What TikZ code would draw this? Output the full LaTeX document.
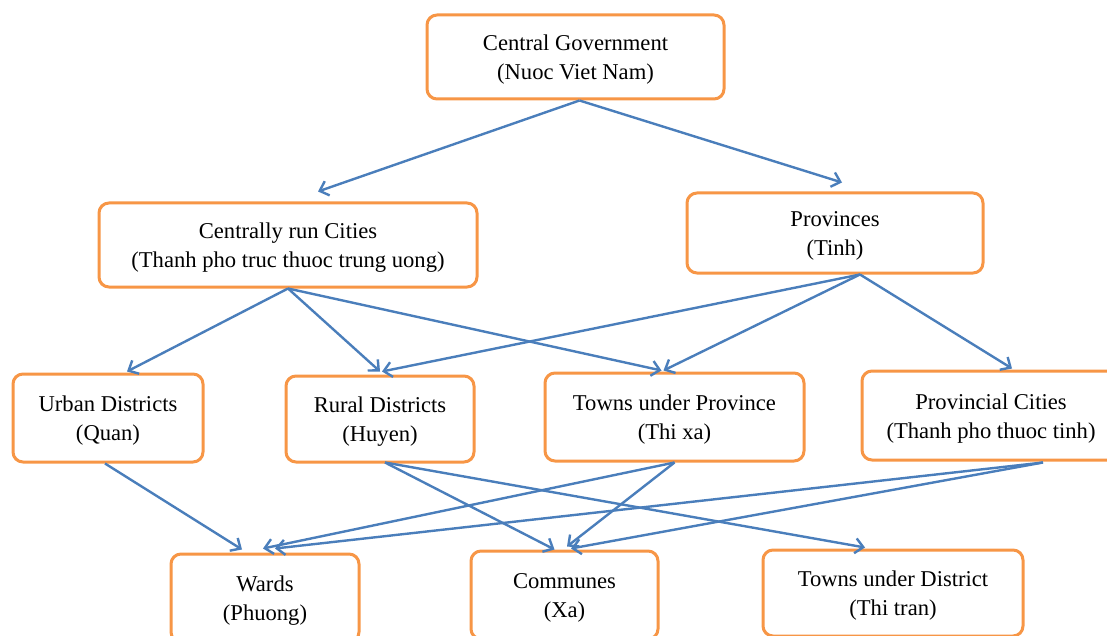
\documentclass[tikz,border=0pt]{standalone}
\usepackage{fontspec}
\setmainfont{Liberation Serif}
\usetikzlibrary{arrows.meta,calc}
\definecolor{boxorange}{RGB}{247,150,70}
\definecolor{linkblue}{RGB}{74,126,187}
\begin{document}
\begin{tikzpicture}[x=1pt,y=-1pt,
  unit/.style={draw=boxorange, line width=3pt, rounded corners=10pt, fill=white,
    inner sep=0pt},
  caption/.style={align=center, inner sep=0pt, font=\fontsize{22.6}{29}\selectfont},
  link/.style={draw=linkblue, line width=2.4pt,
    -{Straight Barb[length=8pt,width=15pt]}}]
\useasboundingbox (0,0) rectangle (1107,636);

% administrative units: frame first, then its two-line caption
\node[unit, minimum width=297pt, minimum height=84pt] (cg) at (575.5,57) {};
\node[caption] (cg-t) at ($(cg)+(0,3)$) {Central Government\\(Nuoc Viet Nam)};
\node[unit, minimum width=378pt, minimum height=84pt] (cc) at (288,245) {};
\node[caption] (cc-t) at ($(cc)+(0,3)$) {Centrally run Cities\\(Thanh pho truc thuoc trung uong)};
\node[unit, minimum width=296pt, minimum height=80pt] (pv) at (835,233) {};
\node[caption] (pv-t) at ($(pv)+(0,3)$) {Provinces\\(Tinh)};
\node[unit, minimum width=190pt, minimum height=88pt] (ud) at (108,418) {};
\node[caption] (ud-t) at ($(ud)+(0,3)$) {Urban Districts\\(Quan)};
\node[unit, minimum width=188pt, minimum height=86pt] (rd) at (380,419) {};
\node[caption] (rd-t) at ($(rd)+(0,3)$) {Rural Districts\\(Huyen)};
\node[unit, minimum width=259pt, minimum height=88pt] (tp) at (674.5,417) {};
\node[caption] (tp-t) at ($(tp)+(0,3)$) {Towns under Province\\(Thi xa)};
\node[unit, minimum width=258pt, minimum height=89pt] (pc) at (991,415.5) {};
\node[caption] (pc-t) at ($(pc)+(0,3)$) {Provincial Cities\\(Thanh pho thuoc tinh)};
\node[unit, minimum width=188pt, minimum height=88pt] (wd) at (265,598) {};
\node[caption] (wd-t) at ($(wd)+(0,3)$) {Wards\\(Phuong)};
\node[unit, minimum width=187pt, minimum height=88pt] (cm) at (564.5,595) {};
\node[caption] (cm-t) at ($(cm)+(0,3)$) {Communes\\(Xa)};
\node[unit, minimum width=260pt, minimum height=86pt] (td) at (893,593) {};
\node[caption] (td-t) at ($(td)+(0,3)$) {Towns under District\\(Thi tran)};

% hierarchy links
\draw[link] ($(cg.south)+(4,0)$) -- ($(cc.north)+(30,-10)$);
\draw[link] ($(cg.south)+(4,0)$) -- ($(pv.north)+(7,-9)$);

\draw[link] (cc.south) -- ($(ud.north)+(19,-1)$);
\draw[link] (cc.south) -- ($(rd.north)+(0,-3)$);
\draw[link] (cc.south) -- ($(tp.north)+(-13,-1)$);

\draw[link] ($(pv.south)+(25,0)$) -- ($(rd.north)+(2,-3)$);
\draw[link] ($(pv.south)+(25,0)$) -- ($(tp.north)+(-11,-1)$);
\draw[link] ($(pv.south)+(25,0)$) -- ($(pc.north)+(21,-1)$);

\draw[link] ($(ud.south)+(-3,0)$) -- ($(wd.north)+(-23,-3)$);
\draw[link] ($(rd.south)+(5,-1)$) -- ($(cm.north)+(-10,0)$);
\draw[link] ($(rd.south)+(5,-1)$) -- ($(td.north)+(-28,-1)$);
\draw[link] (tp.south) -- ($(wd.north)+(-2,-4)$);
\draw[link] (tp.south) -- ($(cm.north)+(2.5,-3)$);
\draw[link] ($(pc.south)+(52,1)$) -- ($(wd.north)+(10,-4)$);
\draw[link] ($(pc.south)+(52,1)$) -- ($(cm.north)+(6.5,-1)$);
\end{tikzpicture}
\end{document}
